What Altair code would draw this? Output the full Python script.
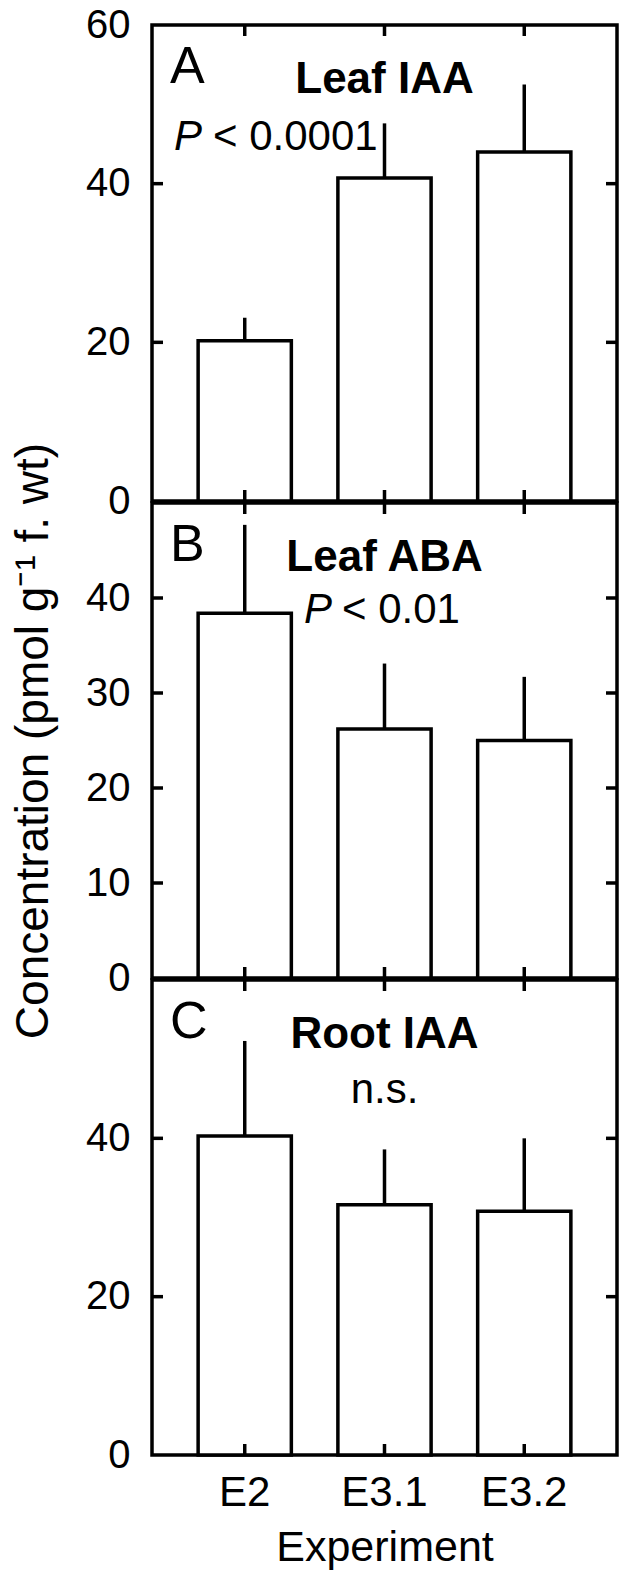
import altair as alt
import pandas as pd

FONT = "Liberation Sans"

experiments = ["E2", "E3.1", "E3.2"]

leaf_iaa_mean = [20.2, 40.7, 44.0]
leaf_iaa_upper = [23.1, 47.6, 52.5]
leaf_aba_mean = [38.4, 26.2, 25.0]
leaf_aba_upper = [47.7, 33.1, 31.7]
root_iaa_mean = [40.3, 31.6, 30.8]
root_iaa_upper = [52.3, 38.6, 40.0]

panel_letters = ["A", "B", "C"]
panel_titles = ["Leaf IAA", "Leaf ABA", "Root IAA"]
y_max = [60, 50, 60]
y_label_values = [[0, 20, 40, 60], [0, 10, 20, 30, 40], [0, 20, 40]]
y_tick_values = [[20, 40], [10, 20, 30, 40], [20, 40]]

y_title = "Concentration (pmol g\u207b\u00b9 f. wt)"
x_title = "Experiment"

W = 465
HEIGHTS = [476, 475, 475]
TICK = 11
SW = 3.5


def panel(i, means, uppers, stat_text, stat_mode):
    H = HEIGHTS[i]
    df = pd.DataFrame({"experiment": experiments, "mean": means, "upper": uppers})
    xscale = alt.Scale(domain=experiments, paddingInner=0.333, paddingOuter=0.33)
    yscale = alt.Scale(domain=[0, y_max[i]], nice=False, zero=True)

    if i == 2:
        xaxis = alt.Axis(
            title=x_title, labelAngle=0, ticks=False, domain=False, grid=False,
            labelFontSize=42, labelPadding=17, labelColor="black", labelFont=FONT,
            titleFontSize=43, titleFontWeight="normal", titlePadding=13,
            titleColor="black", titleFont=FONT,
        )
    else:
        xaxis = None

    yaxis = alt.Axis(
        values=y_label_values[i], ticks=False, domain=False, grid=False,
        labelFontSize=40, labelPadding=22, labelColor="black", labelFont=FONT,
        labelFlush=False, labelOverlap=False,
        title=y_title if i == 1 else "",
        titleFontSize=46, titleFontWeight="normal", titleColor="black",
        titleFont=FONT, titlePadding=28,
    )

    def X():
        return alt.X("experiment:N", scale=xscale, axis=xaxis, sort=experiments)

    def Y(field):
        return alt.Y(field, scale=yscale, axis=yaxis)

    bars = alt.Chart(df).mark_bar(
        fill="white", stroke="black", strokeWidth=SW
    ).encode(x=X(), y=Y("mean:Q"))

    err = alt.Chart(df).mark_rule(color="black", strokeWidth=SW).encode(
        x=X(), y=Y("mean:Q"), y2="upper:Q",
    )

    tdf = pd.DataFrame({"v": y_tick_values[i]})
    ytick_l = alt.Chart(tdf).mark_rule(color="black", strokeWidth=SW).encode(
        y=Y("v:Q"), x=alt.value(0), x2=alt.value(TICK),
    )
    ytick_r = alt.Chart(tdf).mark_rule(color="black", strokeWidth=SW).encode(
        y=Y("v:Q"), x=alt.value(W - TICK), x2=alt.value(W),
    )
    xdf = pd.DataFrame({"experiment": experiments})
    xtick_t = alt.Chart(xdf).mark_rule(color="black", strokeWidth=SW).encode(
        x=X(), y=alt.value(0), y2=alt.value(TICK),
    )
    xtick_b = alt.Chart(xdf).mark_rule(color="black", strokeWidth=SW).encode(
        x=X(), y=alt.value(H - TICK), y2=alt.value(H),
    )

    letter = alt.Chart(pd.DataFrame({"t": [panel_letters[i]]})).mark_text(
        font=FONT, fontSize=52, align="left", baseline="alphabetic", color="black"
    ).encode(text="t:N", x=alt.value(18), y=alt.value(58))

    title = alt.Chart(pd.DataFrame({"t": [panel_titles[i]]})).mark_text(
        font=FONT, fontSize=44, fontWeight="bold", align="center",
        baseline="alphabetic", color="black"
    ).encode(text="t:N", x=alt.value(W / 2), y=alt.value(68))

    layers = [bars, err, ytick_l, ytick_r, xtick_t, xtick_b, letter, title]

    if stat_mode == "A":
        p = alt.Chart(pd.DataFrame({"t": ["P"]})).mark_text(
            font=FONT, fontSize=42, fontStyle="italic", align="left",
            baseline="alphabetic", color="black"
        ).encode(text="t:N", x=alt.value(22), y=alt.value(125))
        rest = alt.Chart(pd.DataFrame({"t": [stat_text]})).mark_text(
            font=FONT, fontSize=42, align="left", baseline="alphabetic", color="black"
        ).encode(text="t:N", x=alt.value(61), y=alt.value(125))
        layers += [p, rest]
    elif stat_mode == "B":
        p = alt.Chart(pd.DataFrame({"t": ["P"]})).mark_text(
            font=FONT, fontSize=42, fontStyle="italic", align="left",
            baseline="alphabetic", color="black"
        ).encode(text="t:N", x=alt.value(152), y=alt.value(120))
        rest = alt.Chart(pd.DataFrame({"t": [stat_text]})).mark_text(
            font=FONT, fontSize=42, align="left", baseline="alphabetic", color="black"
        ).encode(text="t:N", x=alt.value(190), y=alt.value(120))
        layers += [p, rest]
    else:
        ns = alt.Chart(pd.DataFrame({"t": [stat_text]})).mark_text(
            font=FONT, fontSize=42, align="center", baseline="alphabetic", color="black"
        ).encode(text="t:N", x=alt.value(W / 2), y=alt.value(123))
        layers += [ns]

    return alt.layer(*layers).properties(width=W, height=H)


a = panel(0, leaf_iaa_mean, leaf_iaa_upper, "< 0.0001", "A")
b = panel(1, leaf_aba_mean, leaf_aba_upper, "< 0.01", "B")
c = panel(2, root_iaa_mean, root_iaa_upper, "n.s.", "C")

chart = (
    alt.vconcat(a, b, c, spacing=2, bounds="flush")
    .properties(padding={"top": -5, "left": 0, "right": 0, "bottom": 0})
    .configure(font=FONT)
    .configure_view(stroke="black", strokeWidth=SW)
)

chart.save("out.html", embed_options={"renderer": "svg", "actions": False})
